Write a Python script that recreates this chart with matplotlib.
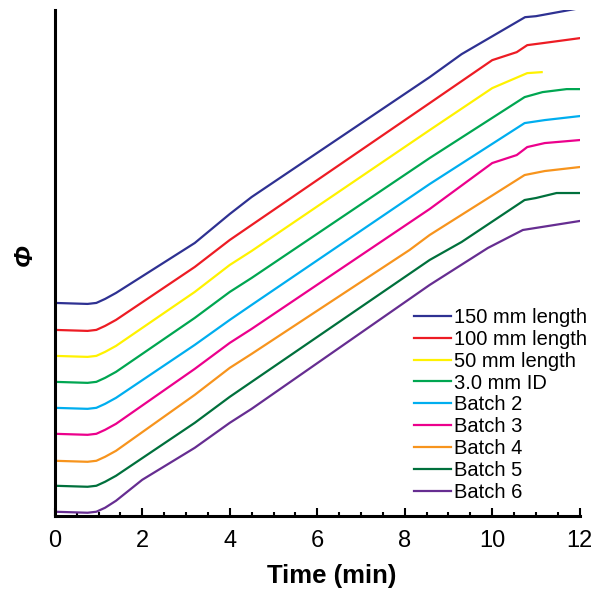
import matplotlib
matplotlib.use("Agg")
import matplotlib.pyplot as plt
from matplotlib.ticker import MultipleLocator

plt.rcParams['font.family'] = ['Liberation Sans', 'DejaVu Sans']

labels = ["150 mm length", "100 mm length", "50 mm length", "3.0 mm ID",
          "Batch 2", "Batch 3", "Batch 4", "Batch 5", "Batch 6"]
colors = ["#2e3192", "#ed1c24", "#fff200", "#00a651", "#00aeef",
          "#ec008c", "#f7941d", "#00703c", "#662d91"]

x_150 = [0, 0.75, 0.95, 1.15, 1.4, 3.2, 4.0, 4.5, 8.57, 9.3, 10.75, 11.0, 12]
y_150 = [213, 212, 213, 217, 223, 273, 302, 319, 439, 462, 499, 500, 508]
x_100 = [0, 0.75, 0.95, 1.15, 1.4, 3.2, 4.0, 4.5, 8.57, 10.0, 10.56, 10.8, 11.15, 12]
y_100 = [186, 185, 186, 190, 196, 249, 276, 291, 413, 456, 464, 471, 473, 478]
x_50 = [0, 0.75, 0.95, 1.15, 1.4, 3.2, 4.0, 4.5, 8.57, 10.0, 10.8, 11.13]
y_50 = [160, 159, 160, 164, 170, 224, 251, 265, 386, 428, 443, 444]
x_id = [0, 0.75, 0.95, 1.15, 1.4, 3.2, 4.0, 4.5, 8.57, 10.74, 11.15, 11.7, 12]
y_id = [134, 133, 134, 138, 144, 198, 224, 238, 358, 419, 424, 427, 427]
x_b2 = [0, 0.75, 0.95, 1.15, 1.4, 3.2, 4.0, 4.5, 8.57, 10.74, 11.2, 12]
y_b2 = [108, 107, 108, 112, 118, 171, 196, 211, 332, 393, 396, 400]
x_b3 = [0, 0.75, 0.95, 1.15, 1.4, 3.2, 4.0, 4.5, 8.57, 10.0, 10.56, 10.8, 11.2, 12]
y_b3 = [82, 81, 82, 86, 92, 147, 173, 187, 307, 353, 361, 369, 373, 376]
x_b4 = [0, 0.75, 0.95, 1.15, 1.4, 3.2, 4.0, 4.5, 8.11, 8.57, 10.74, 11.2, 12]
y_b4 = [55, 54, 55, 59, 65, 121, 148, 162, 266, 281, 341, 345, 349]
x_b5 = [0, 0.75, 0.95, 1.15, 1.4, 3.2, 4.0, 4.5, 8.57, 9.3, 10.74, 11.0, 11.47, 12]
y_b5 = [30, 29, 30, 34, 40, 93, 119, 134, 256, 274, 316, 318, 323, 323]
x_b6 = [0, 0.75, 0.95, 1.15, 1.4, 2.0, 3.2, 4.0, 4.5, 8.57, 9.9, 10.7, 12]
y_b6 = [4, 3, 4, 8, 15, 36, 68, 93, 107, 231, 268, 286, 295]

xs = [x_150, x_100, x_50, x_id, x_b2, x_b3, x_b4, x_b5, x_b6]
ys = [y_150, y_100, y_50, y_id, y_b2, y_b3, y_b4, y_b5, y_b6]

fig = plt.figure(figsize=(6.02, 5.99), dpi=100)
ax = fig.add_axes([0.091, 0.139, 0.872, 0.844])

for x, y, c, lab in zip(xs, ys, colors, labels):
    ax.plot(x, y, color=c, lw=1.6, label=lab, solid_joinstyle='round')

ax.set_xlim(0, 12)
ax.set_ylim(0, 506)
ax.spines['top'].set_visible(False)
ax.spines['right'].set_visible(False)
ax.spines['left'].set_linewidth(2.2)
ax.spines['bottom'].set_linewidth(2.2)
ax.set_yticks([])
ax.xaxis.set_major_locator(MultipleLocator(2))
ax.xaxis.set_minor_locator(MultipleLocator(0.5))
ax.tick_params(axis='x', which='major', direction='in', length=6, width=1.5,
               labelsize=17, pad=10)
ax.tick_params(axis='x', which='minor', direction='in', length=3, width=1.5)
ax.set_xlabel("Time (min)", fontsize=18.5, fontweight='bold')
ax.xaxis.set_label_coords(0.528, -0.095)
ax.set_ylabel("Φ", fontsize=19, fontweight='bold', style='italic')
ax.yaxis.set_label_coords(-0.034, 0.516)

leg = ax.legend(loc='lower right', bbox_to_anchor=(1.03, 0.012), frameon=False,
                fontsize=14.5, handlelength=1.85, handletextpad=0.15,
                labelspacing=0.14, borderaxespad=0)

fig.savefig("out.png", dpi=100)
